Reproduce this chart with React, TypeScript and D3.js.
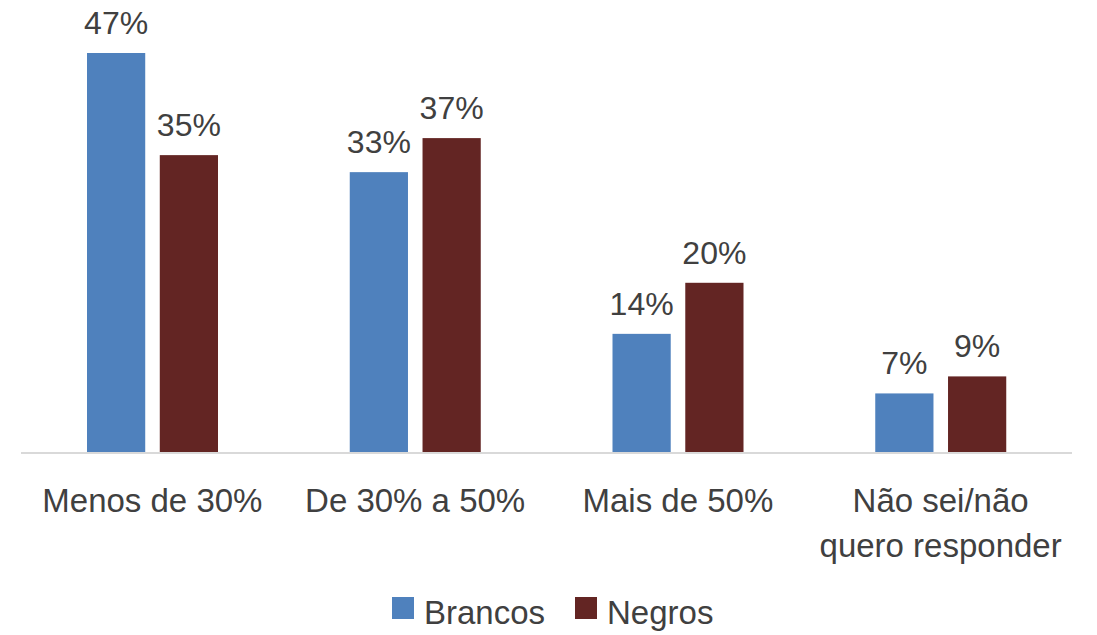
import React from 'react';
import * as d3 from 'd3';

const categories = ['Menos de 30%', 'De 30% a 50%', 'Mais de 50%', 'Não sei/não quero responder'];
const categoryLines = [['Menos de 30%'], ['De 30% a 50%'], ['Mais de 50%'], ['Não sei/não', 'quero responder']];
const seriesNames = ['Brancos', 'Negros'];
const brancos = [47, 33, 14, 7];
const negros = [35, 37, 20, 9];
const colors = ['#4F81BD', '#632523'];

const W = 1097;
const H = 635;
const FONT = "'Liberation Sans', Arial, sans-serif";
const TEXT = '#404040';

export default function App() {
  const x0 = d3.scaleBand().domain(categories).range([21, 1072]).paddingInner(0).paddingOuter(0);
  const x1 = d3.scaleBand().domain(seriesNames).range([66, 197]).paddingInner(0.2).paddingOuter(0);
  const y = d3.scaleLinear().domain([0, 47]).range([453, 53]);
  const values = [brancos, negros];

  return (
    <svg width={W} height={H} style={{ position: 'absolute', left: 0, top: 0 }} fontFamily={FONT}>
      <rect width={W} height={H} fill="#fff" />
      {categories.map((c, ci) => (
        <g key={c} transform={`translate(${x0(c)},0)`}>
          {seriesNames.map((s, si) => {
            const v = values[si][ci];
            const bx = x1(s) as number;
            const bw = x1.bandwidth();
            return (
              <g key={s}>
                <rect x={bx} y={y(v)} width={bw} height={453 - y(v)} fill={colors[si]} />
                <text x={bx + bw / 2} y={y(v) - 19} textAnchor="middle" fontSize={32} fill={TEXT}>
                  {v}%
                </text>
              </g>
            );
          })}
          {categoryLines[ci].map((line, li) => (
            <text key={li} x={x0.bandwidth() / 2} y={512 + li * 45} textAnchor="middle" fontSize={33} fill={TEXT}>
              {line}
            </text>
          ))}
        </g>
      ))}
      <line x1={21} x2={1072} y1={453} y2={453} stroke="#D9D9D9" strokeWidth={2} />
      <g>
        {seriesNames.map((s, si) => {
          const lx = si === 0 ? 392 : 575;
          return (
            <g key={s}>
              <rect x={lx} y={597} width={22} height={22} fill={colors[si]} />
              <text x={lx + 32} y={624} fontSize={33} fill={TEXT}>
                {s}
              </text>
            </g>
          );
        })}
      </g>
    </svg>
  );
}
